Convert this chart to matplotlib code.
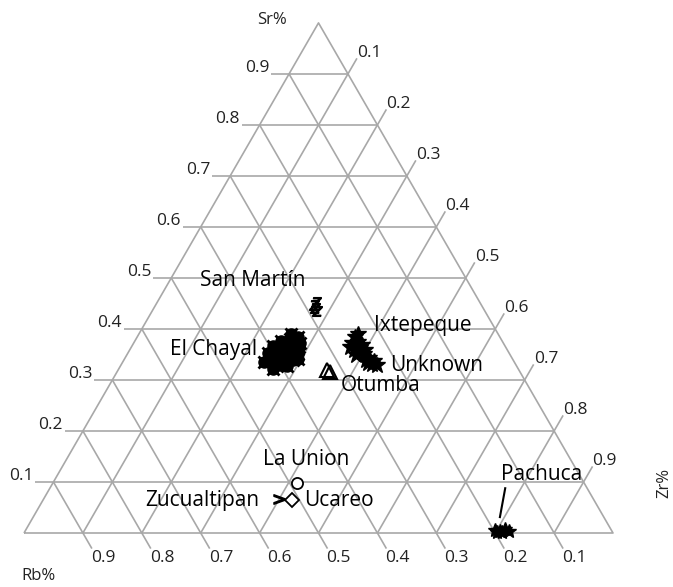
import numpy as np
import matplotlib.pyplot as plt

plt.rcParams['font.family'] = ['Open Sans', 'DejaVu Sans']

# Ternary compositions (Sr, Zr); Rb = 1 - Sr - Zr
chayal_sr = [0.355, 0.370, 0.372, 0.340, 0.345, 0.360, 0.365, 0.350, 0.335, 0.380,
             0.330, 0.358, 0.348, 0.362, 0.376, 0.340, 0.385, 0.352, 0.328, 0.366,
             0.342, 0.372, 0.322, 0.390, 0.336, 0.356, 0.346, 0.368, 0.338, 0.360]
chayal_zr = [0.266, 0.255, 0.270, 0.275, 0.260, 0.245, 0.285, 0.290, 0.255, 0.262,
             0.270, 0.276, 0.248, 0.258, 0.248, 0.286, 0.272, 0.238, 0.282, 0.240,
             0.295, 0.282, 0.262, 0.258, 0.240, 0.256, 0.268, 0.265, 0.265, 0.282]

ixtepeque_sr = [0.390, 0.384, 0.373, 0.375, 0.369, 0.365, 0.363, 0.359, 0.359]
ixtepeque_zr = [0.372, 0.370, 0.371, 0.380, 0.390, 0.371, 0.389, 0.381, 0.400]

unknown_sr = [0.349, 0.351, 0.339, 0.343, 0.331, 0.329, 0.333, 0.337]
unknown_zr = [0.390, 0.401, 0.411, 0.415, 0.425, 0.434, 0.417, 0.425]

sanmartin_sr = [0.453, 0.441, 0.435, 0.447]
sanmartin_zr = [0.269, 0.274, 0.280, 0.269]

otumba_sr = [0.320, 0.316]
otumba_zr = [0.354, 0.362]

launion_sr = [0.098]
launion_zr = [0.415]

ucareo_sr = [0.065]
ucareo_zr = [0.422]

zucualtipan_sr = [0.067]
zucualtipan_zr = [0.400]

pachuca_sr = [0.006, 0.004, 0.008, 0.004, 0.001, 0.002]
pachuca_zr = [0.797, 0.806, 0.813, 0.821, 0.811, 0.802]

ticks = [0.1, 0.2, 0.3, 0.4, 0.5, 0.6, 0.7, 0.8, 0.9]

H = np.sqrt(3) / 2


def tern(sr, zr):
    sr = np.asarray(sr, dtype=float)
    zr = np.asarray(zr, dtype=float)
    return zr + sr / 2, sr * H


fig = plt.figure(figsize=(6.73, 5.87), dpi=100)
ax = fig.add_axes([0, 0, 1, 1])
ax.set_xlim(-24 / 589, 649 / 589)
ax.set_ylim(-54 / 589, 533 / 589)
ax.axis('off')

grid = dict(color='#a8a8a8', lw=1.2, zorder=1, solid_capstyle='butt')
tick_txt = dict(fontsize=12.5, color='#222222')
tl = 18 / 589  # tick length

# triangle frame
fx, fy = tern([0, 0, 1, 0], [0, 1, 0, 0])
ax.plot(fx, fy, **grid)

for t in ticks:
    # constant Sr (horizontal), ticks out to the left
    x, y = tern([t, t], [0, 1 - t])
    ax.plot([x[0] - tl, x[1]], y, **grid)
    ax.text(x[0] - tl - 2 / 589, y[0] - 2 / 589, f'{t:.1f}', ha='right', va='bottom', **tick_txt)
    # constant Zr (parallel to left side), ticks out up-right
    x, y = tern([0, 1 - t], [t, t])
    ex, ey = x[1] + tl * 0.5, y[1] + tl * H
    ax.plot([x[0], ex], [y[0], ey], **grid)
    ax.text(ex, ey - 3 / 589, f'{t:.1f}', ha='left', va='bottom', **tick_txt)
    # constant Rb (parallel to right side), ticks out down-right
    x, y = tern([0, 1 - t], [1 - t, 0])
    ex, ey = x[0] + tl * 0.5, y[0] - tl * H
    ax.plot([x[1], ex], [y[1], ey], **grid)
    ax.text(ex - 1 / 589, ey - 1 / 589, f'{t:.1f}', ha='left', va='top', **tick_txt)

# samples by source
x, y = tern(chayal_sr, chayal_zr)
ax.plot(x, y, 'x', color='black', ms=9, mew=2, zorder=3)
ax.plot(x, y, 'o', color='black', ms=8, zorder=3)
x, y = tern(ixtepeque_sr, ixtepeque_zr)
ax.plot(x, y, '*', color='black', ms=12, zorder=3)
x, y = tern(unknown_sr, unknown_zr)
ax.plot(x, y, '*', color='black', ms=12, zorder=3)
x, y = tern(sanmartin_sr, sanmartin_zr)
ax.plot(x, y, ls='none', marker='$Z$', color='black', ms=7, zorder=3)
x, y = tern(otumba_sr, otumba_zr)
ax.plot(x, y, '^', mfc='none', mec='black', ms=10, mew=1.5, zorder=3)
x, y = tern(launion_sr, launion_zr)
ax.plot(x, y, 'o', mfc='white', mec='black', ms=8, mew=1.3, zorder=3)
x, y = tern(ucareo_sr, ucareo_zr)
ax.plot(x, y, 'D', mfc='white', mec='black', ms=7, mew=1.3, zorder=3)
x, y = tern(zucualtipan_sr, zucualtipan_zr)
ax.plot(x, y, ls='none', marker='$>$', color='black', ms=8, zorder=3)
x, y = tern(pachuca_sr, pachuca_zr)
ax.plot(x, y, '*', color='black', ms=10, zorder=3)

lab = dict(fontsize=15, color='black', ha='center', va='center', zorder=4)
ax.text(0.389, 0.428, 'San Martín', **lab)
ax.text(0.321, 0.311, 'El Chayal', **lab)
ax.text(0.677, 0.353, 'Ixtepeque', **lab)
ax.text(0.701, 0.284, 'Unknown', **lab)
ax.text(0.606, 0.250, 'Otumba', **lab)
ax.text(0.479, 0.124, 'La Union', **lab)
ax.text(0.302, 0.056, 'Zucualtipan', **lab)
ax.text(0.535, 0.056, 'Ucareo', **lab)
ax.text(0.879, 0.100, 'Pachuca', **lab)
ax.plot([0.817, 0.808], [0.076, 0.027], color='black', lw=1.5, zorder=4)

axis_txt = dict(fontsize=12, ha='center', va='center', color='#222222')
ax.text(0.421, 0.871, 'Sr%', **axis_txt)
ax.text(0.024, -0.073, 'Rb%', **axis_txt)
ax.text(1.087, 0.085, 'Zr%', rotation=90, **axis_txt)

fig.savefig('out.png', dpi=100)
